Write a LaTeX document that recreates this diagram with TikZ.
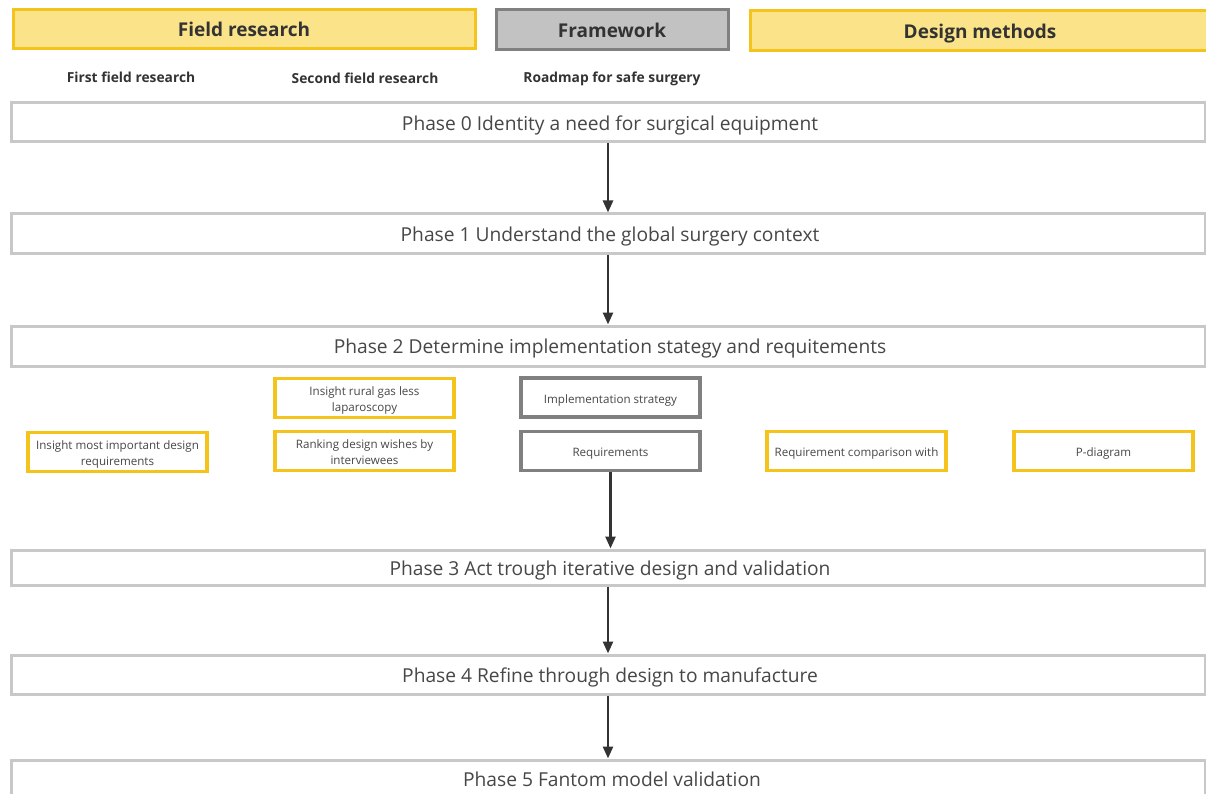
\documentclass[tikz,border=0pt]{standalone}
\usepackage{fontspec}
\setmainfont{Open Sans}
\usetikzlibrary{arrows.meta}
\definecolor{hdrfill}{HTML}{FBE38A}
\definecolor{gold}{HTML}{F4C41C}
\definecolor{frfill}{HTML}{C2C2C2}
\definecolor{frline}{HTML}{808080}
\definecolor{phline}{HTML}{C8C8C8}
\definecolor{txt}{HTML}{333333}
\definecolor{arrowc}{HTML}{333333}
\newcommand{\bxtext}[1]{\raisebox{-2.5pt}[\height][\depth]{\begin{tabular}{@{}c@{}}#1\end{tabular}}}
\newcommand{\phtext}[1]{\raisebox{-3pt}[\height][\depth]{\hspace*{4pt}#1}}
\tikzset{
  hdr/.style={draw=gold, fill=hdrfill, line width=3pt, inner sep=0pt, text=txt,
    font=\fontsize{19}{22}\selectfont\bfseries},
  fwhdr/.style={draw=frline, fill=frfill, line width=3pt, inner sep=0pt, text=txt,
    font=\fontsize{19}{22}\selectfont\bfseries},
  sub/.style={inner sep=0pt, text=txt, font=\fontsize{13.8}{16}\selectfont\bfseries},
  phase/.style={draw=phline, fill=white, line width=3pt, inner sep=0pt,
    minimum width=1194pt, text=txt!90, font=\fontsize{19.2}{22}\selectfont},
  ybox/.style={draw=gold, fill=white, line width=3.5pt, inner sep=0pt,
    minimum width=179pt, minimum height=39pt, text=txt!90,
    font=\fontsize{11.6}{16}\selectfont},
  gbox/.style={draw=frline, fill=white, line width=3.5pt, inner sep=0pt,
    minimum width=179pt, minimum height=39pt, text=txt!90,
    font=\fontsize{11.6}{16}\selectfont},
  arr/.style={draw=arrowc, line width=2.5pt, -{Triangle[length=12pt,width=10pt]}}
}
\begin{document}
\begin{tikzpicture}[x=1pt,y=-1pt]
\useasboundingbox (0,0) rectangle (1206,794);
% headers
\node[hdr, minimum width=462pt, minimum height=39pt] (fr) at (244,29.5) {Field research};
\node[fwhdr, minimum width=232pt, minimum height=40pt] (fw) at (612,30) {Framework};
\node[hdr, minimum width=466pt, minimum height=40pt] (dm) at (983,30.5) {};
\node[inner sep=0pt, text=txt, font=\fontsize{19}{22}\selectfont\bfseries] (dmt) at (980,34) {Design methods};
% sub titles
\node[sub] (s1) at (131,77) {First field research};
\node[sub] (s2) at (365,78) {Second field research};
\node[sub] (s3) at (612,79) {Roadmap for safe surgery};
% phases
\node[phase, minimum height=39pt] (p0) at (608,122.5) {\phtext{Phase 0 Identity a need for surgical equipment}};
\node[phase, minimum height=39pt] (p1) at (608,233.5) {\phtext{Phase 1 Understand the global surgery context}};
\node[phase, minimum height=40pt] (p2) at (608,346) {\phtext{Phase 2 Determine implementation stategy and requitements}};
\node[phase, minimum height=35pt] (p3) at (608,567.5) {\phtext{Phase 3 Act trough iterative design and validation}};
\node[phase, minimum height=39pt] (p4) at (608,674.5) {\phtext{Phase 4 Refine through design to manufacture}};
\node[phase, minimum height=44pt] (p5) at (608,782) {};
\node[inner sep=0pt, text=txt!90, font=\fontsize{19.2}{22}\selectfont] (p5t) at (612,779) {Phase 5 Fantom model validation};
% method boxes
\node[ybox] (b1) at (364.5,398) {\bxtext{Insight rural gas less\\laparoscopy}};
\node[gbox] (b2) at (610.5,397.5) {\bxtext{Implementation strategy}};
\node[ybox] (b3) at (117.5,452) {\bxtext{Insight most important design\\requirements}};
\node[ybox] (b4) at (364.5,451) {\bxtext{Ranking design wishes by\\interviewees}};
\node[gbox] (b5) at (610.5,451) {\bxtext{Requirements}};
\node[ybox] (b6) at (856.5,451) {\bxtext{Requirement comparison with}};
\node[ybox] (b7) at (1103.5,451) {\bxtext{P-diagram}};
% arrows
\draw[arr] (p0) -- (p1);
\draw[arr] (p1) -- (p2);
\draw[arr] (b5.south) -- (b5.south |- p3.north);
\draw[arr] (p3) -- (p4);
\draw[arr] (p4) -- (p5);
\end{tikzpicture}
\end{document}
